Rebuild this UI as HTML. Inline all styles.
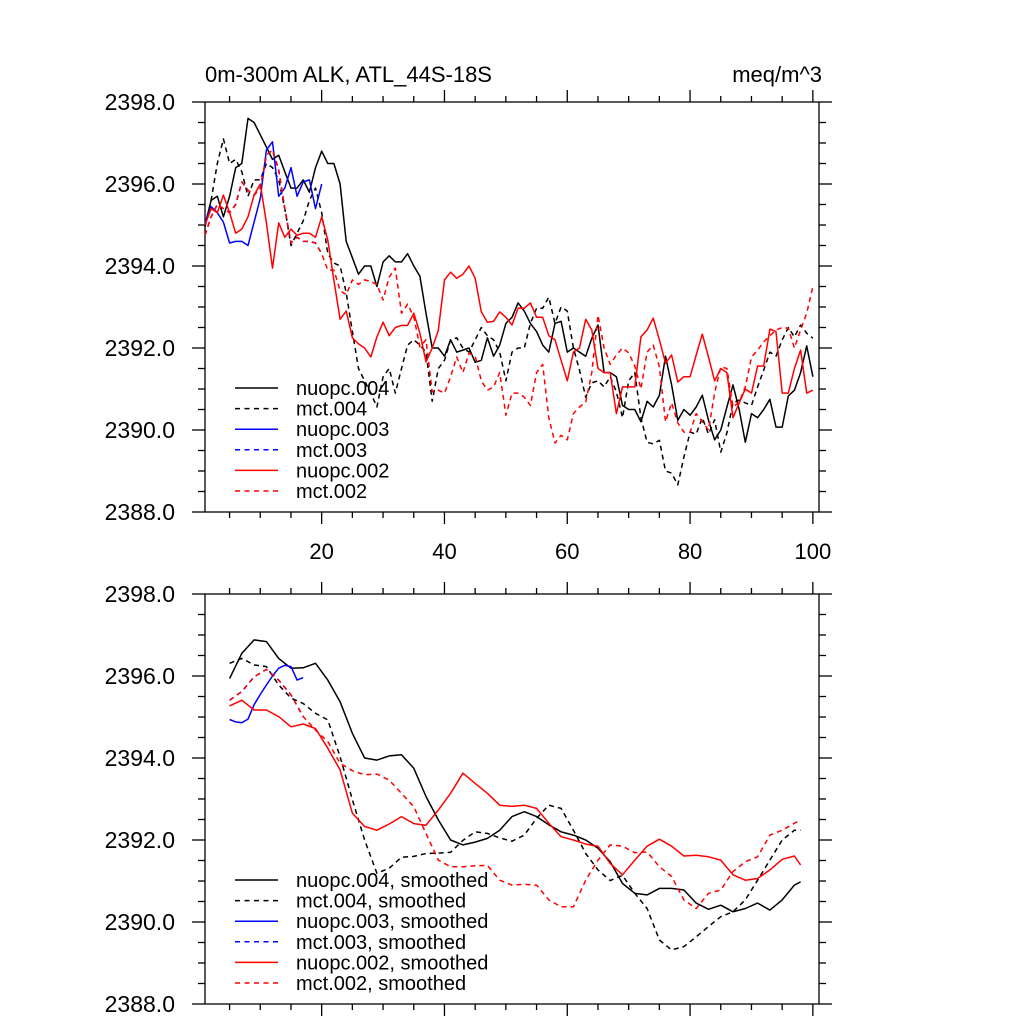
<!DOCTYPE html>
<html><head><meta charset="utf-8"><style>
html,body{margin:0;padding:0;background:#fff;}
svg{display:block;font-family:"Liberation Sans",sans-serif;}
</style></head>
<body>
<svg id="chart" width="1024" height="1024" viewBox="0 0 1024 1024" xmlns="http://www.w3.org/2000/svg">
<rect width="1024" height="1024" fill="#fff"/>
<text x="205" y="82" font-size="22">0m-300m ALK, ATL_44S-18S</text>
<text x="822" y="82" font-size="22" text-anchor="end">meq/m^3</text>
<g id="top"></g>
<g id="bot"></g>
</svg>
<script>
const yTicks = [2398, 2396, 2394, 2392, 2390, 2388];
const yTickLabels = ["2398.0", "2396.0", "2394.0", "2392.0", "2390.0", "2388.0"];
const xTicks = [20, 40, 60, 80, 100];
const xTickLabels = ["20", "40", "60", "80", "100"];

const nuopc004 = [2395.0,2395.6,2395.7,2395.2,2395.7,2396.4,2396.5,2397.6,2397.5,2397.2,2396.9,2396.6,2396.7,2396.3,2395.9,2395.9,2396.1,2395.8,2396.4,2396.8,2396.5,2396.5,2396.0,2394.6,2394.2,2393.8,2394.0,2394.0,2393.5,2394.1,2394.25,2394.1,2394.1,2394.3,2394.0,2393.75,2392.85,2392.0,2392.0,2391.8,2392.2,2391.9,2391.95,2392.0,2391.65,2391.7,2392.25,2391.8,2392.07,2392.6,2392.75,2393.1,2392.9,2392.6,2392.4,2392.07,2391.9,2392.6,2392.65,2391.9,2392.0,2391.9,2391.8,2392.24,2392.56,2391.4,2391.4,2391.3,2390.6,2390.5,2390.5,2390.2,2390.7,2390.56,2390.85,2391.8,2391.1,2390.24,2390.5,2390.36,2390.56,2390.85,2390.24,2389.76,2390.0,2390.56,2391.1,2390.5,2389.7,2390.4,2390.3,2390.5,2390.75,2390.07,2390.07,2390.83,2390.97,2391.4,2392.05,2391.3];
const mct004 = [2394.95,2395.6,2396.5,2397.1,2396.5,2396.6,2396.3,2395.7,2396.1,2396.1,2396.5,2396.4,2396.1,2395.4,2394.5,2394.8,2395.1,2395.6,2395.9,2395.3,2394.3,2394.07,2394.0,2393.35,2392.4,2391.5,2391.2,2390.9,2390.56,2391.3,2391.5,2390.9,2391.5,2392.07,2392.2,2392.07,2391.9,2390.7,2391.5,2391.7,2392.2,2392.25,2392.0,2391.9,2392.2,2392.5,2392.3,2392.2,2391.9,2391.2,2391.9,2392.0,2392.0,2392.6,2392.97,2392.97,2393.24,2392.6,2393.0,2392.9,2392.0,2391.46,2390.8,2391.15,2391.2,2391.05,2391.3,2390.93,2390.3,2391.2,2391.4,2390.3,2389.7,2389.66,2389.75,2389.0,2388.95,2388.66,2389.34,2389.95,2389.9,2390.3,2389.9,2390.25,2389.46,2389.93,2390.66,2390.73,2390.66,2390.6,2391.05,2391.46,2391.9,2391.8,2392.2,2392.5,2392.27,2392.56,2392.36,2392.24];
const nuopc003 = [2395.05,2395.45,2395.3,2395.07,2394.56,2394.6,2394.6,2394.5,2395.07,2395.65,2396.83,2397.03,2395.7,2395.9,2396.4,2395.7,2396.05,2396.1,2395.4,2396.0];
const mct003 = [2394.75,2395.2,2395.5,2395.4,2395.3,2395.5,2396.05,2395.85,2395.73,2395.9,2396.7,2396.83,2396.34,2395.4,2394.56,2394.7,2394.6,2394.6,2394.56,2394.3];
const nuopc002 = [2395.0,2395.4,2395.3,2395.73,2395.3,2394.8,2394.9,2395.2,2395.73,2396.0,2395.05,2393.95,2395.05,2394.7,2394.9,2394.75,2394.8,2394.8,2394.7,2395.2,2394.63,2393.65,2392.7,2392.9,2392.25,2392.1,2392.0,2391.78,2392.27,2392.63,2392.3,2392.5,2392.55,2392.55,2392.85,2392.36,2391.66,2392.0,2392.43,2393.66,2393.85,2393.7,2393.8,2394.0,2393.7,2392.88,2392.63,2392.65,2392.88,2392.75,2392.56,2392.97,2392.97,2393.1,2392.75,2392.75,2392.3,2392.2,2391.7,2391.2,2391.9,2392.0,2392.7,2392.44,2391.5,2391.4,2391.4,2390.4,2391.05,2391.05,2391.05,2392.27,2392.44,2392.73,2392.2,2391.63,2391.83,2391.17,2391.3,2391.3,2391.83,2392.34,2391.78,2391.2,2391.5,2391.4,2390.3,2390.66,2391.0,2390.9,2391.56,2391.56,2392.46,2392.4,2390.9,2390.9,2391.5,2391.95,2390.9,2390.97];
const mct002 = [2394.75,2395.2,2395.5,2395.4,2395.3,2395.5,2396.05,2395.85,2395.73,2395.9,2396.7,2396.83,2396.34,2395.4,2394.56,2394.7,2394.6,2394.6,2394.56,2394.3,2393.9,2393.9,2393.4,2393.3,2393.66,2393.55,2393.66,2393.62,2393.55,2393.17,2393.73,2393.95,2392.85,2393.07,2392.76,2392.03,2392.2,2390.93,2390.97,2390.9,2391.3,2391.78,2391.4,2391.87,2391.8,2391.2,2390.97,2391.05,2391.4,2390.36,2390.9,2390.9,2390.8,2390.6,2391.4,2391.6,2390.3,2389.68,2389.87,2389.76,2390.4,2390.56,2390.68,2391.4,2392.8,2392.0,2391.6,2391.83,2392.0,2391.88,2391.56,2391.0,2391.9,2392.07,2391.54,2390.2,2390.66,2390.17,2389.95,2389.95,2390.4,2390.2,2390.0,2390.9,2391.54,2391.5,2390.56,2390.68,2391.05,2391.78,2391.95,2392.15,2392.3,2392.44,2392.5,2392.48,2392.0,2392.44,2392.85,2393.5];

const smX = [5,7,9,11,13,15,17,19,21,23,25,27,29,31,33,35,37,39,41,43,45,47,49,51,53,55,57,59,61,63,65,67,69,71,73,75,77,79,81,83,85,87,89,91,93,95,97,98];
const nuopcSm004 = [2395.94,2396.55,2396.88,2396.84,2396.43,2396.19,2396.2,2396.31,2395.9,2395.37,2394.6,2394.0,2393.95,2394.05,2394.08,2393.75,2393.06,2392.49,2392.0,2391.88,2391.95,2392.04,2392.24,2392.57,2392.69,2392.57,2392.37,2392.2,2392.12,2392.0,2391.8,2391.47,2390.94,2390.7,2390.66,2390.82,2390.82,2390.78,2390.46,2390.31,2390.41,2390.25,2390.33,2390.46,2390.29,2390.54,2390.9,2390.98];
const mctSm004 = [2396.31,2396.43,2396.27,2396.23,2395.78,2395.46,2395.33,2395.09,2394.93,2394.03,2392.98,2392.0,2391.19,2391.31,2391.58,2391.6,2391.67,2391.68,2391.7,2391.99,2392.2,2392.16,2392.05,2391.97,2392.12,2392.53,2392.85,2392.77,2392.24,2391.67,2391.27,2391.01,2391.14,2390.7,2390.33,2389.56,2389.32,2389.4,2389.64,2389.89,2390.13,2390.25,2390.54,2391.02,2391.51,2392.0,2392.24,2392.24];
const smX003 = [5,6,7,8,9,10,11,12,13,14,15,16,17];
const nuopcSm003 = [2394.94,2394.88,2394.86,2394.95,2395.3,2395.55,2395.78,2396.0,2396.19,2396.26,2396.23,2395.9,2395.96];
const mctSm003X = [5,7,9,11,13,15,17];
const mctSm003 = [2395.41,2395.62,2395.98,2396.16,2395.9,2395.54,2395.01];
const nuopcSm002 = [2395.27,2395.41,2395.17,2395.17,2395.01,2394.76,2394.83,2394.72,2394.24,2393.71,2392.65,2392.33,2392.24,2392.39,2392.57,2392.4,2392.36,2392.73,2393.14,2393.63,2393.38,2393.14,2392.85,2392.82,2392.85,2392.77,2392.41,2392.08,2392.0,2391.9,2391.85,2391.43,2391.15,2391.51,2391.85,2392.02,2391.85,2391.61,2391.63,2391.59,2391.51,2391.15,2391.02,2391.06,2391.27,2391.53,2391.61,2391.39];
const mctSm002 = [2395.41,2395.62,2395.98,2396.16,2395.9,2395.54,2395.01,2394.68,2394.4,2393.87,2393.69,2393.59,2393.61,2393.46,2393.14,2392.81,2392.16,2391.51,2391.35,2391.35,2391.37,2391.38,2391.02,2390.9,2390.92,2390.9,2390.54,2390.37,2390.37,2391.02,2391.51,2391.88,2391.85,2391.69,2391.71,2391.35,2391.11,2390.54,2390.33,2390.7,2390.78,2391.23,2391.47,2391.59,2392.12,2392.24,2392.41,2392.49];

const topNames = ["nuopc.004","mct.004","nuopc.003","mct.003","nuopc.002","mct.002"];
const botNames = ["nuopc.004, smoothed","mct.004, smoothed","nuopc.003, smoothed","mct.003, smoothed","nuopc.002, smoothed","mct.002, smoothed"];

const NS = "http://www.w3.org/2000/svg";
const X0 = 205, X1 = 819, XMIN = 1, XMAX = 101, YMAX = 2398, YMIN = 2388;
function sx(x){ return X0 + (x - XMIN) * (X1 - X0) / (XMAX - XMIN); }
function mk(tag, attrs, parent){ const e = document.createElementNS(NS, tag); for (const k in attrs) e.setAttribute(k, attrs[k]); parent.appendChild(e); return e; }
const colors = ["#000","#000","#0000ff","#0000ff","#ff0000","#ff0000"];
const dashes = [null,"5,4",null,"5,4",null,"5,4"];

function panel(g, y0, y1, series, names, showX, legY, key){
  const sy = v => y0 + (YMAX - v) * (y1 - y0) / (YMAX - YMIN);
  const ax = mk('g', {}, g);
  
  
  const st = {stroke:'#000','stroke-width':1.3,fill:'none'};
  mk('rect', Object.assign({x:X0, y:y0, width:X1-X0, height:y1-y0}, st), ax);
  for (let v = YMIN; v <= YMAX + 0.001; v += 0.5) {
    const major = Math.abs(v - Math.round(v/2)*2) < 0.01;
    const L = major ? 13 : 7;
    mk('line', Object.assign({x1:X0-L, x2:X0, y1:sy(v), y2:sy(v)}, st), ax);
    mk('line', Object.assign({x1:X1, x2:X1+L, y1:sy(v), y2:sy(v)}, st), ax);
  }
  for (let x = 5; x <= XMAX; x += 5) {
    const major = x % 20 === 0;
    const L = major ? 12 : 6;
    mk('line', Object.assign({x1:sx(x), x2:sx(x), y1:y0-L, y2:y0}, st), ax);
    mk('line', Object.assign({x1:sx(x), x2:sx(x), y1:y1, y2:y1+L}, st), ax);
  }
  yTicks.forEach((v, i) => {
    const t = mk('text', {x:175, y:sy(v)+8, 'font-size':23, 'text-anchor':'end'}, ax);
    
    
    t.textContent = yTickLabels[i];
  });
  if (showX) xTicks.forEach((v, i) => {
    const t = mk('text', {x:sx(v), y:559, 'font-size':22, 'text-anchor':'middle'}, ax);
    
    
    t.textContent = xTickLabels[i];
  });
  series.forEach((s, i) => {
    const pts = s.v.map((v, j) => sx(s.x ? s.x[j] : j + 1).toFixed(1) + ',' + sy(v).toFixed(1)).join(' ');
    const a = {points:pts, fill:'none', stroke:colors[i], 'stroke-width':1.5, 'stroke-linejoin':'round'};
    if (dashes[i]) a['stroke-dasharray'] = dashes[i];
    const p = mk('polyline', a, g);
    
    
  });
  names.forEach((n, i) => {
    const y = legY + i * 20.6;
    const lg = mk('g', {}, g);
    
    
    const a = {x1:235, x2:278, y1:y, y2:y, stroke:colors[i], 'stroke-width':1.5};
    if (dashes[i]) a['stroke-dasharray'] = "5,4.5";
    mk('line', a, lg);
    const t = mk('text', {x:296, y:y+7, 'font-size':20}, lg);
    t.textContent = n;
  });
}

panel(document.getElementById('top'), 102, 512, [
  {v:nuopc004},{v:mct004},{v:nuopc003},{v:mct003},{v:nuopc002},{v:mct002}
], topNames, true, 388, 'top');
panel(document.getElementById('bot'), 594, 1004, [
  {x:smX, v:nuopcSm004},{x:smX, v:mctSm004},{x:smX003, v:nuopcSm003},{x:mctSm003X, v:mctSm003},{x:smX, v:nuopcSm002},{x:smX, v:mctSm002}
], botNames, false, 880, 'bottom');
</script>
</body></html>
